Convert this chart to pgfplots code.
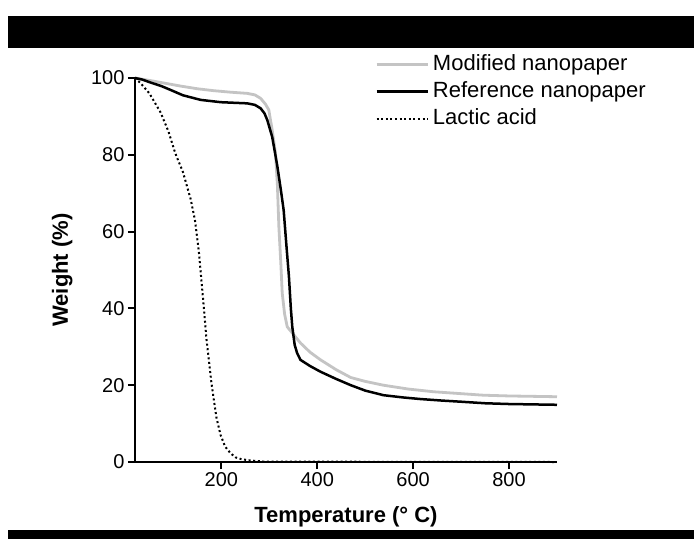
\documentclass[border=0pt]{standalone}
\usepackage{fontspec}
\setmainfont{Liberation Sans}
\usepackage{pgfplots}
\pgfplotsset{compat=1.18}
\definecolor{lgray}{RGB}{196,196,196}
\begin{document}
\begin{tikzpicture}
\fill[white] (0pt,0pt) rectangle (694pt,-539pt);
\fill[black] (8pt,-16pt) rectangle (694pt,-48pt);
\fill[black] (8pt,-530pt) rectangle (694pt,-539pt);
\begin{axis}[
  at={(135pt,-462pt)}, anchor=south west,
  width=422pt, height=384pt, scale only axis,
  xmin=20, xmax=900, ymin=0, ymax=100,
  axis lines=left, axis line style={-, line width=2pt},
  clip=false,
  xtick={200,400,600,800}, ytick={0,20,40,60,80,100},
  tick align=outside, major tick length=7pt,
  tick style={line width=2pt, black},
  /pgf/number format/assume math mode=true,
  tick label style={font=\fontsize{20}{24}\selectfont},
  xlabel={\textbf{Temperature (° C)}},
  ylabel={\textbf{Weight (\%)}},
  label style={font=\fontsize{22}{26}\selectfont},
  xlabel style={at={(axis description cs:0.5,-0.158)}, anchor=base},
  ylabel style={at={(axis description cs:-0.159,0.5)}, anchor=base, rotate=0},
  legend cell align=left,
  legend style={draw=none, fill=none, inner sep=0pt, anchor=north west,
    at={(axis description cs:0.5687,1.0703)},
    font=\fontsize{22}{26}\selectfont, row sep=0pt, column sep=2pt,
    nodes={inner sep=2pt, text height=17pt, text depth=6pt}},
  legend image code/.code={\draw[#1] (0pt,0pt) -- (51pt,0pt);},
]
\addplot[lgray, line width=2.8pt, line join=round] coordinates {
(20,100) (53,99.3) (80,98.7) (115,97.9) (150,97.2) (184,96.7) (220,96.3) (254,96) (270,95.6) (282,94.7) (292,93.2) (299,91.7) (306,86.5) (310,83) (313,80.4) (317,72) (320,61.3) (324,52) (327,44) (332,38.5) (337.5,35.2) (348,33.6) (365,31) (385,28.6) (407,26.6) (440,24) (470,22) (500,21) (538,20) (590,19) (642,18.3) (700,17.8) (746,17.4) (800,17.2) (850,17.1) (900,17)
};
\addlegendentry{Modified nanopaper}
\addplot[black, line width=2.5pt, line join=round] coordinates {
(20,100) (35,99.6) (53,98.8) (75,97.9) (94,96.9) (120,95.5) (157,94.3) (199,93.7) (254,93.4) (270,93.0) (282,92.1) (290,90.8) (296,89) (306,84.7) (312,80.5) (317,76.9) (324,71) (330,65.6) (336,56) (341,48.3) (345,40) (348,35.2) (353,30.5) (358,28.4) (365,26.6) (385,25) (407,23.5) (440,21.6) (470,20) (500,18.6) (538,17.4) (580,16.8) (615,16.4) (660,16) (700,15.7) (750,15.3) (800,15.1) (850,15) (900,14.9)
};
\addlegendentry{Reference nanopaper}
\addplot[black, line width=2pt, dash pattern=on 2pt off 2.6pt] coordinates {
(20,100) (32,98.6) (50,96) (73.5,91) (90,86) (104,80.4) (120,75.5) (136,68.5) (145,63) (153,55) (158,48) (164,39.6) (169,32) (174,26.6) (179,21) (184.6,16) (190,11.5) (198.5,7) (208,4) (219,2.3) (230,1.2) (240,0.8) (254,0.5) (270,0.3) (290,0.1) (900,0)
};
\addlegendentry{Lactic acid}
\end{axis}
\pgfresetboundingbox
\useasboundingbox (0pt,0pt) rectangle (694pt,-539pt);
\end{tikzpicture}
\end{document}
